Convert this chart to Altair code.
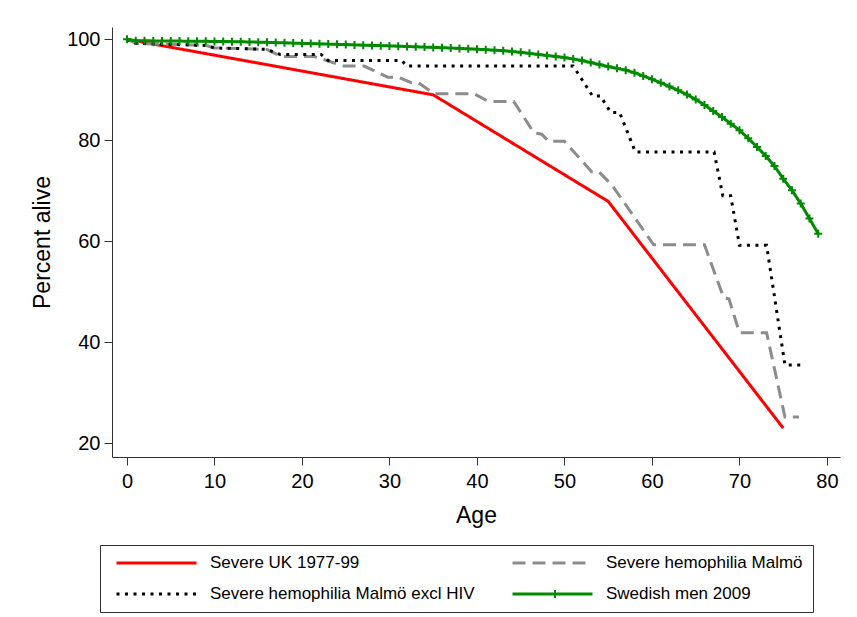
import altair as alt
import pandas as pd

SERIES = ["Severe UK 1977-99", "Severe hemophilia Malmö excl HIV",
          "Severe hemophilia Malmö", "Swedish men 2009"]
COLORS = ["#ff0000", "#000000", "#8c8c8c", "#008a00"]
DASHES = [[1, 0], [3, 5.5], [13, 7], [1, 0]]
WIDTHS = [3, 3, 3, 2.2]
PLUS = "M-1,0H1M0,-1V1"

ages_uk = [0, 35, 55, 75]
pct_uk = [100, 89.0, 67.9, 23.0]

ages_malmo = [0, 1, 9, 10, 16, 17.6, 21.4, 24.8, 27.1, 29.8, 31, 32.5, 33.3, 35.1,
              39.7, 41.3, 44.2, 46.5, 47.4, 48.2, 50, 53.1, 53.9, 55.4, 60.2, 66,
              68.2, 68.8, 70, 73.1, 75.2, 76.8]
pct_malmo = [100, 99.2, 98.8, 98.3, 98.0, 96.6, 96.6, 94.7, 94.7, 92.5, 92.5, 91.4, 91.4, 89.2,
             89.2, 87.7, 87.7, 81.5, 81.2, 79.8, 79.8, 73.8, 73.8, 71.2, 59.3, 59.3,
             48.8, 48.6, 41.9, 41.9, 25.2, 25.2]

ages_exhiv = [0, 1, 9, 10, 16, 17.5, 22.2, 23, 31.4, 32, 51, 53.2, 54.1, 55.3, 56.3,
              58.1, 67.1, 68.1, 69.0, 70.0, 73.1, 75.2, 77.0]
pct_exhiv = [100, 99.2, 98.8, 98.3, 98.0, 97.0, 97.0, 95.8, 95.8, 94.7, 94.7, 88.8, 88.8,
             85.5, 85.5, 77.7, 77.7, 69.0, 69.0, 59.2, 59.2, 35.5, 35.5]

ages_swe = list(range(0, 80))
pct_swe = [100.0, 99.72, 99.70, 99.69, 99.68, 99.66, 99.65, 99.63, 99.62, 99.60,
           99.58, 99.56, 99.54, 99.51, 99.48, 99.44, 99.40, 99.35, 99.30, 99.25,
           99.20, 99.15, 99.10, 99.05, 99.00, 98.95, 98.90, 98.85, 98.80, 98.75,
           98.70, 98.64, 98.58, 98.52, 98.46, 98.40, 98.34, 98.28, 98.20, 98.12,
           98.04, 97.95, 97.85, 97.75, 97.60, 97.42, 97.22, 97.00, 96.80, 96.60,
           96.38, 96.10, 95.80, 95.40, 95.00, 94.60, 94.25, 93.90, 93.40, 92.75,
           92.10, 91.40, 90.65, 89.90, 89.05, 88.10, 87.00, 85.80, 84.60, 83.30,
           82.00, 80.40, 78.70, 76.90, 74.90, 72.40, 70.10, 67.50, 64.50, 61.50]

rows = []
for name, ages, pcts in [("Severe UK 1977-99", ages_uk, pct_uk),
                         ("Severe hemophilia Malmö", ages_malmo, pct_malmo),
                         ("Severe hemophilia Malmö excl HIV", ages_exhiv, pct_exhiv),
                         ("Swedish men 2009", ages_swe, pct_swe)]:
    for i, (a, p) in enumerate(zip(ages, pcts)):
        rows.append({"series": name, "age": a, "pct": p, "ord": i})
df = pd.DataFrame(rows)
df_swe = df[df["series"] == "Swedish men 2009"]

FONT = "Liberation Sans"

x = alt.X("age:Q", scale=alt.Scale(domain=[-1.714, 81.49], nice=False, zero=False),
          axis=alt.Axis(values=list(range(0, 81, 10)), title="Age", titlePadding=13,
                        labelPadding=6))
y = alt.Y("pct:Q", scale=alt.Scale(domain=[17.29, 102.44], nice=False, zero=False),
          axis=alt.Axis(values=[20, 40, 60, 80, 100], title="Percent alive",
                        titlePadding=12, labelPadding=4))

leg = alt.Legend(title=None, orient="none", legendX=-12, legendY=518, columns=2,
                 symbolType="stroke", symbolSize=6400, symbolStrokeWidth=3,
                 clipHeight=16, rowPadding=14, columnPadding=31, padding=10,
                 symbolOffset=5, labelOffset=12, labelFont=FONT, labelFontSize=17,
                 labelLimit=0, strokeColor="#333333", fillColor="white",
                 labelColor="black")

lines = alt.Chart(df).mark_line().encode(
    x=x, y=y, order="ord:Q",
    color=alt.Color("series:N", scale=alt.Scale(domain=SERIES, range=COLORS), legend=leg),
    strokeDash=alt.StrokeDash("series:N", scale=alt.Scale(domain=SERIES, range=DASHES), legend=leg),
    strokeWidth=alt.StrokeWidth("series:N", scale=alt.Scale(domain=SERIES, range=WIDTHS), legend=None),
)

plus_leg = alt.Legend(title=None, orient="none", legendX=438, legendY=559, padding=0,
                      symbolSize=64, symbolStrokeWidth=2, symbolStrokeColor="#008a00",
                      symbolFillColor="transparent", clipHeight=16, labelExpr="''",
                      symbolOffset=0)

marks = alt.Chart(df_swe).mark_point(filled=False, size=64, strokeWidth=2,
                                     color="#008a00", opacity=1).encode(
    x=x, y=y,
    shape=alt.Shape("series:N", scale=alt.Scale(domain=["Swedish men 2009"], range=[PLUS]),
                    legend=plus_leg),
)

chart = alt.layer(lines, marks).resolve_legend(shape="independent").properties(
    width=728, height=430,
    padding={"left": 104, "top": 19, "right": 5, "bottom": 159},
    autosize=alt.AutoSizeParams(type="none"),
).configure_view(stroke=None).configure_axis(
    grid=False, domainColor="#333333", tickColor="#333333", tickSize=8,
    labelFont=FONT, titleFont=FONT, labelFontSize=20, titleFontSize=23,
    labelColor="black", titleColor="black", titleFontWeight="normal",
)

chart.save("out.html", embed_options={"renderer": "svg", "actions": False})
